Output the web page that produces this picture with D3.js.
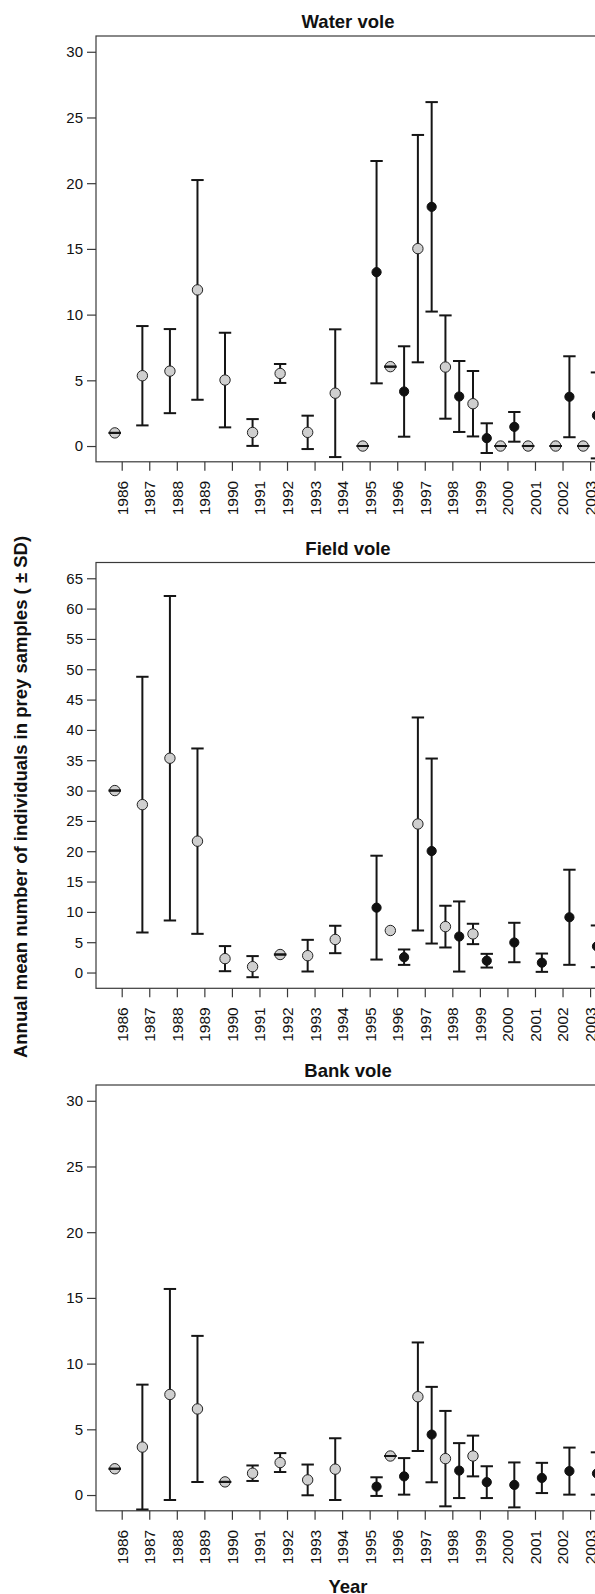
<!DOCTYPE html>
<html>
<head>
<meta charset="utf-8">
<script src="https://cdn.jsdelivr.net/npm/d3@7"></script>
<style>
  body { margin: 0; background: #fff; }
  text { font-family: "Liberation Sans", Arial, Helvetica, sans-serif; fill: #111; }
</style>
</head>
<body>
<div id="chart"></div>
<script>
// years on the x axis
var years = [1986, 1987, 1988, 1989, 1990, 1991, 1992, 1993, 1994,
             1995, 1996, 1997, 1998, 1999, 2000, 2001, 2002, 2003]

// water vole (grey = left of the year, black = right of the year)
var waterGreyMean = [1.0, 5.35, 5.7, 11.88, 5.02, 1.03, 5.52, 1.04, 4.02, 0, 6.04, 15.02, 6.01, 3.22, 0, 0, 0, 0]
var waterGreySd   = [0, 3.78, 3.2, 8.36, 3.6, 1.02, 0.72, 1.27, 4.86, 0, 0, 8.65, 3.93, 2.49, 0, 0, 0, 0]
var waterBlackMean = [null, null, null, null, null, null, null, null, null, 13.23, 4.15, 18.2, 3.77, 0.6, 1.46, null, 3.75, 2.33]
var waterBlackSd   = [null, null, null, null, null, null, null, null, null, 8.46, 3.44, 7.97, 2.7, 1.13, 1.13, null, 3.08, 3.27]

// field vole
var fieldGreyMean = [30, 27.68, 35.33, 21.66, 2.29, 0.97, 2.97, 2.78, 5.45, null, 6.93, 24.49, 7.57, 6.36, null, null, null, null]
var fieldGreySd   = [0, 21.08, 26.75, 15.28, 2.07, 1.74, 0, 2.61, 2.26, null, null, 17.56, 3.44, 1.68, null, null, null, null]
var fieldBlackMean = [null, null, null, null, null, null, null, null, null, 10.7, 2.53, 20.03, 5.94, 1.95, 4.95, 1.62, 9.11, 4.32]
var fieldBlackSd   = [null, null, null, null, null, null, null, null, null, 8.56, 1.27, 15.25, 5.78, 1.13, 3.25, 1.51, 7.84, 3.44]

// bank vole
var bankGreyMean = [2, 3.65, 7.65, 6.55, 1, 1.66, 2.47, 1.15, 1.97, null, 2.97, 7.48, 2.77, 2.97, null, null, null, null]
var bankGreySd   = [0, 4.75, 8.03, 5.56, 0, 0.59, 0.72, 1.17, 2.35, null, 0, 4.13, 3.63, 1.55, null, null, null, null]
var bankBlackMean = [null, null, null, null, null, null, null, null, null, 0.64, 1.42, 4.6, 1.86, 0.98, 0.77, 1.3, 1.82, 1.64]
var bankBlackSd   = [null, null, null, null, null, null, null, null, null, 0.71, 1.39, 3.63, 2.09, 1.21, 1.71, 1.15, 1.79, 1.61]

var panels = [
    { title: "Water vole", ymax: 30, step: 5, top: 36, greyMean: waterGreyMean, greySd: waterGreySd, blackMean: waterBlackMean, blackSd: waterBlackSd },
    { title: "Field vole", ymax: 65, step: 5, top: 562.5, greyMean: fieldGreyMean, greySd: fieldGreySd, blackMean: fieldBlackMean, blackSd: fieldBlackSd },
    { title: "Bank vole", ymax: 30, step: 5, top: 1085, greyMean: bankGreyMean, greySd: bankGreySd, blackMean: bankBlackMean, blackSd: bankBlackSd }
]

var width = 595, height = 1594
var left = 96, right = 600, panelH = 425.8
var boxColor = "#3a3a3a"

var svg = d3.select("#chart")
    .append("svg")
    .attr("width", width)
    .attr("height", height)

// x scale shared by the three panels (R style 4% padding)
var x = d3.scaleLinear()
    .domain([1985.067, 2003.36])
    .range([left, right])

panels.forEach(function (p) {
    var pad = p.ymax * 0.04
    var y = d3.scaleLinear()
        .domain([-pad, p.ymax + pad])
        .range([p.top + panelH, p.top])

    var g = svg.append("g")

    // title
    g.append("text")
        .attr("x", (left + right) / 2)
        .attr("y", p.top - 8)
        .attr("text-anchor", "middle")
        .style("font-weight", "bold")
        .style("font-size", "18.5px")
        .text(p.title)

    // box
    g.append("rect")
        .attr("x", left)
        .attr("y", p.top)
        .attr("width", right - left)
        .attr("height", panelH)
        .attr("fill", "none")
        .attr("stroke", boxColor)
        .attr("stroke-width", 1.2)

    // y axis
    var yAxis = g.append("g")
        .attr("transform", "translate(" + left + ",0)")
        .call(d3.axisLeft(y).tickValues(d3.range(0, p.ymax + 0.1, p.step)).tickSize(9).tickPadding(4).tickFormat(d3.format("d")))
    yAxis.select(".domain").remove()
    yAxis.selectAll("line").attr("stroke", boxColor).attr("stroke-width", 1.2)
    yAxis.selectAll("text").style("font-size", "15px").attr("fill", "#111")

    // x axis
    var xAxis = g.append("g")
        .attr("transform", "translate(0," + (p.top + panelH) + ")")
        .call(d3.axisBottom(x).tickValues(years).tickSize(9).tickFormat(d3.format("d")))
    xAxis.select(".domain").remove()
    xAxis.selectAll("line").attr("stroke", boxColor).attr("stroke-width", 1.2)
    xAxis.selectAll("text")
        .style("font-size", "15.5px")
        .attr("fill", "#111")
        .attr("text-anchor", "end")
        .attr("transform", "rotate(-90)")
        .attr("x", -19)
        .attr("y", 0)
        .attr("dy", "0.35em")

    // build the series rows
    var series = [
        { mean: p.greyMean, sd: p.greySd, off: -0.25, fill: "#cfcfcf", r: 5.2, stroke: "#222" },
        { mean: p.blackMean, sd: p.blackSd, off: 0.25, fill: "#111", r: 4.6, stroke: "#111" }
    ]

    series.forEach(function (s) {
        var rows = years.map(function (yr, i) {
            return { year: yr, mean: s.mean[i], sd: s.sd[i] }
        }).filter(function (d) { return d.mean !== null })

        var withSd = rows.filter(function (d) { return d.sd !== null })

        // vertical bars
        g.selectAll(null)
            .data(withSd)
            .enter()
            .append("line")
            .attr("x1", function (d) { return x(d.year + s.off) })
            .attr("x2", function (d) { return x(d.year + s.off) })
            .attr("y1", function (d) { return y(d.mean - d.sd) })
            .attr("y2", function (d) { return y(d.mean + d.sd) })
            .attr("stroke", "#151515")
            .attr("stroke-width", 2)

        // points
        g.selectAll(null)
            .data(rows)
            .enter()
            .append("circle")
            .attr("cx", function (d) { return x(d.year + s.off) })
            .attr("cy", function (d) { return y(d.mean) })
            .attr("r", s.r)
            .attr("fill", s.fill)
            .attr("stroke", s.stroke)
            .attr("stroke-width", 1)

        // caps
        ;[-1, 1].forEach(function (sign) {
            g.selectAll(null)
                .data(withSd)
                .enter()
                .append("line")
                .attr("x1", function (d) { return x(d.year + s.off) - 6.2 })
                .attr("x2", function (d) { return x(d.year + s.off) + 6.2 })
                .attr("y1", function (d) { return y(d.mean + sign * d.sd) })
                .attr("y2", function (d) { return y(d.mean + sign * d.sd) })
                .attr("stroke", "#151515")
                .attr("stroke-width", 2)
        })
    })
})

// shared axis titles
svg.append("text")
    .attr("transform", "translate(21," + (height / 2) + ") rotate(-90)")
    .attr("text-anchor", "middle")
    .attr("dy", "0.35em")
    .style("font-weight", "bold")
    .style("font-size", "18.5px")
    .text("Annual mean number of individuals in prey samples ( \u00b1 SD)")

svg.append("text")
    .attr("x", (left + right) / 2)
    .attr("y", 1593)
    .attr("text-anchor", "middle")
    .style("font-weight", "bold")
    .style("font-size", "18.5px")
    .text("Year")
</script>
</body>
</html>
